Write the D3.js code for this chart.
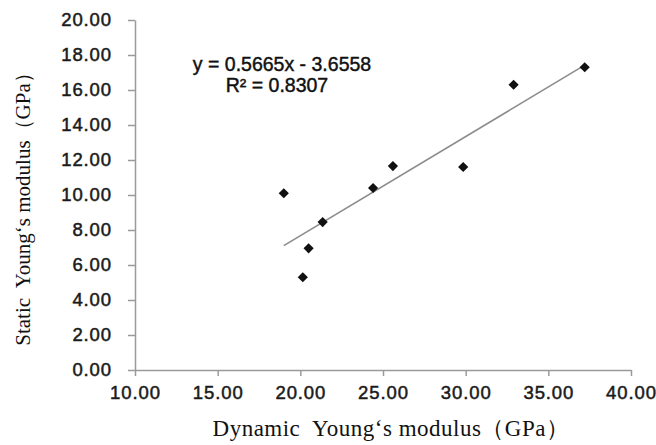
<!DOCTYPE html>
<html>
<head>
<meta charset="utf-8">
<script src="https://cdn.jsdelivr.net/npm/d3@7"></script>
<style>
  body { margin: 0; background: #fff; }
  .tick text { font-family: "Liberation Sans", Arial, sans-serif; fill: #1a1a1a; }
</style>
</head>
<body>
<div id="chart"></div>
<script>
// measured points: dynamic vs static Young's modulus (GPa)
var dynamic_e = [19.0, 20.15, 20.5, 21.35, 24.4, 25.6, 29.85, 32.9, 37.2];
var static_e = [10.1, 5.3, 6.95, 8.45, 10.4, 11.65, 11.6, 16.3, 17.3];
var x_ticks = [10, 15, 20, 25, 30, 35, 40];
var y_ticks = [0, 2, 4, 6, 8, 10, 12, 14, 16, 18, 20];
var fit_slope = 0.5665, fit_intercept = -3.6558;
var eq_label = "y = 0.5665x - 3.6558";
var r2_label = "R² = 0.8307";

var width = 656, height = 445;
var svg = d3.select("#chart").append("svg")
	.attr("width", width)
	.attr("height", height);

var x = d3.scaleLinear().domain([10, 40]).range([135, 631]);
var y = d3.scaleLinear().domain([0, 20]).range([370, 20]);

var fmt = d3.format(".2f");

// y axis
var y_axis = svg.append("g")
	.attr("transform", "translate(" + x(10) + ",0)")
	.call(d3.axisLeft(y).tickValues(y_ticks).tickFormat(fmt)
	    .tickSize(7).tickSizeOuter(0).tickPadding(16));

// x axis
var x_axis = svg.append("g")
	.attr("transform", "translate(0," + y(0) + ")")
	.call(d3.axisBottom(x).tickValues(x_ticks).tickFormat(fmt)
	    .tickSize(6).tickSizeOuter(0).tickPadding(10));

[x_axis, y_axis].forEach(function (g) {
    g.select(".domain").attr("stroke", "#9a9a9a").attr("stroke-width", 1.5);
    g.selectAll(".tick line").attr("stroke", "#9a9a9a").attr("stroke-width", 1.5);
    g.selectAll(".tick text")
	    .style("font-size", "18.5px")
	    .style("letter-spacing", "0.9px")
	    .attr("stroke", "#1a1a1a")
	    .attr("stroke-width", 0.5);
});

// trend line over the data range
var x_ext = d3.extent(dynamic_e);
svg.append("line")
	.attr("x1", x(x_ext[0]))
	.attr("y1", y(fit_slope * x_ext[0] + fit_intercept))
	.attr("x2", x(x_ext[1]))
	.attr("y2", y(fit_slope * x_ext[1] + fit_intercept))
	.attr("stroke", "#8c8c8c")
	.attr("stroke-width", 1.6);

// diamond markers
var marker = d3.symbol().type(d3.symbolSquare).size(52);
svg.selectAll("path.pt")
	.data(dynamic_e)
	.join("path")
	.attr("class", "pt")
	.attr("d", marker)
	.attr("fill", "#111")
	.attr("transform", function (d, i) {
	    return "translate(" + x(d) + "," + y(static_e[i]) + ") rotate(45)";
	});

// equation label
var eq = svg.append("g")
	.attr("font-family", "Liberation Sans, Arial, sans-serif")
	.attr("font-size", "19.5px")
	.attr("fill", "#111")
	.attr("stroke", "#111")
	.attr("stroke-width", 0.45)
	.attr("text-anchor", "middle");
eq.append("text").attr("x", 282).attr("y", 70.5).text(eq_label);
eq.append("text").attr("x", 277).attr("y", 91.5).text(r2_label);

// axis titles
svg.append("text")
	.attr("x", 391)
	.attr("y", 436)
	.attr("text-anchor", "middle")
	.attr("font-family", "Liberation Serif, Times New Roman, serif")
	.attr("font-size", "23px")
	.attr("letter-spacing", "0.5px")
	.attr("fill", "#111")
	.attr("xml:space", "preserve")
	.text("Dynamic  Young‘s modulus（GPa）");

svg.append("text")
	.attr("transform", "translate(30,204) rotate(-90)")
	.attr("text-anchor", "middle")
	.attr("font-family", "Liberation Serif, Times New Roman, serif")
	.attr("font-size", "21px")
	.attr("fill", "#111")
	.attr("xml:space", "preserve")
	.text("Static  Young‘s modulus（GPa）");
</script>
</body>
</html>
